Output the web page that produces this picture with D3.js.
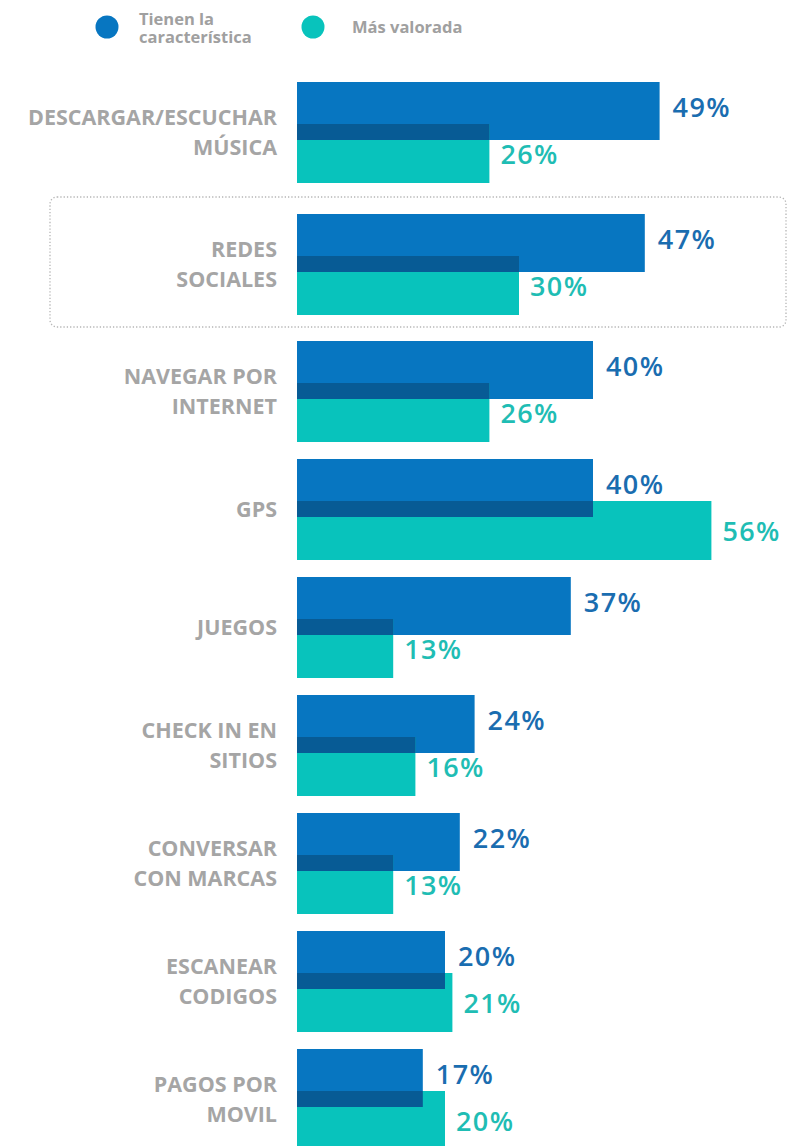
<!DOCTYPE html>
<html>
<head>
<meta charset="utf-8">
<script src="https://cdn.jsdelivr.net/npm/d3@7"></script>
<style>
  html, body { margin: 0; padding: 0; background: #fff; }
  svg { display: block; }
</style>
</head>
<body>
<svg id="chart" width="788" height="1146"></svg>
<script>
// ---- Data ----
const categories = [
  "DESCARGAR/ESCUCHAR\nMÚSICA",
  "REDES\nSOCIALES",
  "NAVEGAR POR\nINTERNET",
  "GPS",
  "JUEGOS",
  "CHECK IN EN\nSITIOS",
  "CONVERSAR\nCON MARCAS",
  "ESCANEAR\nCODIGOS",
  "PAGOS POR\nMOVIL"
];
const tienen   = [49, 47, 40, 40, 37, 24, 22, 20, 17];
const valorada = [26, 30, 26, 56, 13, 16, 13, 21, 20];
const seriesNames = ["Tienen la\ncaracterística", "Más valorada"];
const highlighted = "REDES\nSOCIALES";

// ---- Styles ----
const C_BLUE = "#0776c1";
const C_TEAL = "#08c3bc";
const C_DARK = "#075b95";
const C_BLUE_TXT = "#1a6db0";
const C_TEAL_TXT = "#1fbdb4";
const C_GRAY = "#a5a5a5";

const svg = d3.select("#chart");

const x = d3.scaleLinear().domain([0, 56]).range([297, 297 + 56 * 7.4]);

// row layout: constant step, extra spacing around the highlighted (boxed) row
const step = 118, top0 = 82, padBefore = 14, padAfter = 9;
const hiIdx = categories.indexOf(highlighted);
const band = d3.scaleBand().domain(d3.range(categories.length))
  .range([0, step * categories.length]).paddingInner(0).paddingOuter(0);
function rowY(i) {
  return top0 + band(i) + (i >= hiIdx ? padBefore : 0) + (i > hiIdx ? padAfter : 0);
}
const barH = 58, tealOff = 42, tealH = 59;

const data = categories.map((c, i) => ({ c, i, a: tienen[i], b: valorada[i], y: rowY(i) }));

// highlight box
const hi = data[hiIdx];
svg.append("rect")
  .attr("x", 50).attr("y", hi.y - 17)
  .attr("width", 736).attr("height", tealOff + tealH + 29)
  .attr("rx", 7).attr("ry", 7)
  .attr("fill", "none")
  .attr("stroke", "#b5b5b5")
  .attr("stroke-width", 1.3)
  .attr("stroke-dasharray", "1.3,2");

const g = svg.append("g").selectAll("g").data(data).join("g");

g.append("rect").attr("x", x(0)).attr("y", d => d.y)
  .attr("width", d => x(d.a) - x(0)).attr("height", barH).attr("fill", C_BLUE);
g.append("rect").attr("x", x(0)).attr("y", d => d.y + tealOff)
  .attr("width", d => x(d.b) - x(0)).attr("height", tealH).attr("fill", C_TEAL);
g.append("rect").attr("x", x(0)).attr("y", d => d.y + tealOff)
  .attr("width", d => x(Math.min(d.a, d.b)) - x(0)).attr("height", barH - tealOff).attr("fill", C_DARK);

const valFont = "'Open Sans', sans-serif";
g.append("text").attr("x", d => x(d.a) + 13).attr("y", d => d.y + 35)
  .attr("fill", C_BLUE_TXT).attr("font-family", valFont).attr("font-weight", 600)
  .attr("font-size", 27).attr("letter-spacing", 1.4).text(d => d.a + "%");
g.append("text").attr("x", d => x(d.b) + 11).attr("y", d => d.y + 82)
  .attr("fill", C_TEAL_TXT).attr("font-family", valFont).attr("font-weight", 600)
  .attr("font-size", 27).attr("letter-spacing", 1.4).text(d => d.b + "%");

// category labels
g.each(function(d) {
  const lines = d.c.split("\n");
  const mid = d.y + (tealOff + tealH) / 2;
  const t = d3.select(this).append("text")
    .attr("text-anchor", "end").attr("fill", C_GRAY)
    .attr("font-family", "'Open Sans', sans-serif").attr("font-weight", 700)
    .attr("font-size", 21.5);
  lines.forEach((l, k) => {
    t.append("tspan").attr("x", 277)
      .attr("y", mid + 7.5 + (k - (lines.length - 1) / 2) * 30)
      .text(l);
  });
});

// legend
const leg = svg.append("g");
const legItems = [
  { name: seriesNames[0], color: C_BLUE, cx: 107, tx: 139 },
  { name: seriesNames[1], color: C_TEAL, cx: 313, tx: 352 }
];
legItems.forEach(it => {
  leg.append("circle").attr("cx", it.cx).attr("cy", 27).attr("r", 11.5).attr("fill", it.color);
  const lines = it.name.split("\n");
  const t = leg.append("text").attr("fill", "#a0a0a0")
    .attr("font-family", "'Open Sans', sans-serif").attr("font-weight", 700).attr("font-size", 16.5);
  lines.forEach((l, k) => {
    t.append("tspan").attr("x", it.tx)
      .attr("y", lines.length === 1 ? 33 : 25 + k * 18).text(l);
  });
});
</script>
</body>
</html>
